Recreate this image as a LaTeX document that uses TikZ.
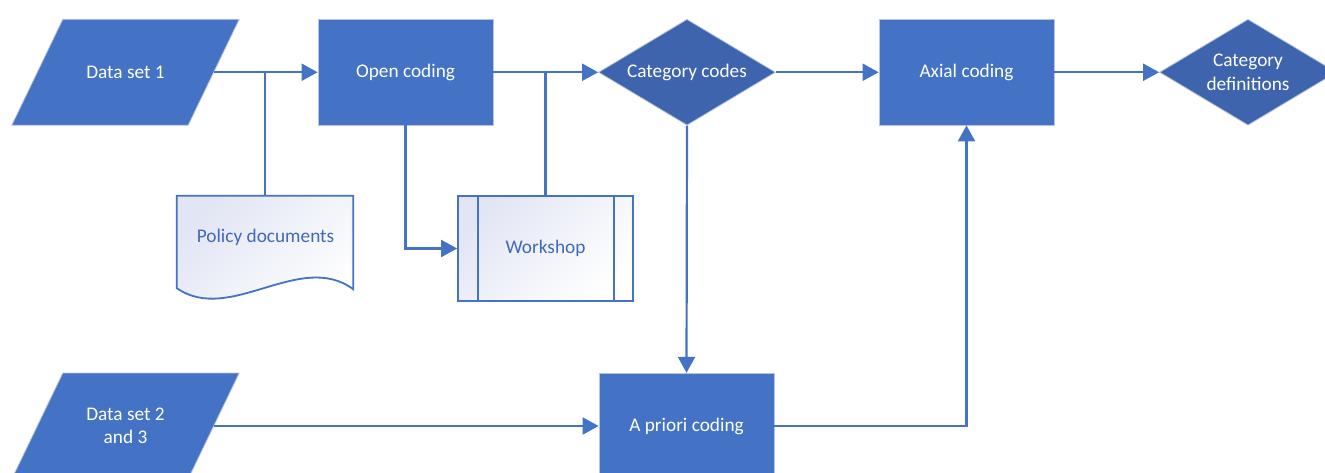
\documentclass[tikz,border=0pt]{standalone}
\usepackage{fontspec}
\setmainfont{Carlito}
\usetikzlibrary{arrows.meta,shapes.geometric,calc,backgrounds}
\definecolor{boxblue}{HTML}{4472C4}
\definecolor{diablue}{HTML}{3D64AD}
\definecolor{linkblue}{HTML}{4472C4}
\definecolor{rim}{HTML}{B8C4DE}
\definecolor{paleblue}{HTML}{E2E6F4}
\definecolor{inkblue}{HTML}{3F69B9}

\begin{document}
\begin{tikzpicture}[x=1pt,y=-1pt,
  font=\fontsize{19.3}{23.5}\selectfont,
  process/.style={rectangle, fill=boxblue, draw=rim, line width=0.8pt, text=white,
    minimum width=175pt, minimum height=105.5pt, inner sep=0pt},
  decision/.style={diamond, aspect=1.67, fill=diablue, draw=rim, line width=0.8pt, text=white,
    minimum width=177pt, minimum height=106pt, inner sep=0pt, align=center},
  % text box of a data node: its east anchor lies on the middle of the slanted edge
  dataio/.style={rectangle, text=white, minimum width=176pt, minimum height=105.5pt,
    inner sep=0pt, align=center},
  dataface/.style={fill=boxblue, draw=rim, line width=0.8pt},
  paleshade/.style={top color=paleblue, bottom color=white, shading angle=45},
  predef/.style={rectangle, paleshade, draw=linkblue, line width=1.8pt, text=inkblue,
    minimum width=175pt, minimum height=105pt, inner sep=0pt},
  wire/.style={draw=linkblue, line width=2.2pt},
  flow/.style={wire, -{Triangle[length=16pt,width=17pt]}}
]
\useasboundingbox (0,0) rectangle (1325,473);
\clip (0,0) rectangle (1325,473);

% main row
\node[dataio] (ds1) at (125.5,72.25) {Data set 1};
\node[process] (open) at (405.5,72.25) {Open coding};
\node[decision] (cc) at (687,72.25) {Category codes};
\node[process] (ax) at (966.5,72.25) {Axial coding};
\node[decision] (cd) at (1248,72.25) {Category\\definitions};

% lower row
\node[dataio] (ds2) at (125.5,426) {Data set 2\\and 3};
\node[process] (ap) at (686.5,426) {A priori coding};

% parallelogram faces behind the data nodes
\begin{pgfonlayer}{background}
  \foreach \d in {ds1,ds2}
    \path[dataface] ([xshift=25.5pt]\d.north west) -- ([xshift=25.5pt]\d.north east)
      -- ([xshift=-25.5pt]\d.south east) -- ([xshift=-25.5pt]\d.south west) -- cycle;
\end{pgfonlayer}

% policy documents (document shape)
\node[minimum width=176pt, minimum height=92pt, inner sep=0pt] (pd) at (265,242) {};
\path[paleshade, draw=linkblue, line width=1.8pt]
  (pd.north west) -- (pd.north east) -- ([yshift=-1pt]pd.south east)
  .. controls (300,250) and (230,325) .. (pd.south west) -- cycle;
\node[text=inkblue] (pdtext) at (265.5,237) {Policy documents};

% workshop (predefined process)
\node[predef] (ws) at (545.5,248.5) {Workshop};
\draw[draw=linkblue, line width=1.8pt]
  ([xshift=21pt]ws.north west) -- ([xshift=21pt]ws.south west)
  ([xshift=-20pt]ws.north east) -- ([xshift=-20pt]ws.south east);

% connectors
\coordinate (j1) at (pd.north |- open.west);
\coordinate (j2) at (ws.north |- open.west);

\draw[flow] (ds1.east) -- (open.west);
\draw[wire] (pd.north) -- (j1);
\draw[flow] (open.east) -- (cc.west);
\draw[wire] (ws.north) -- (j2);
\draw[flow] (open.south) |- (ws.west);
\draw[flow] (cc.east) -- (ax.west);
\draw[flow] (ax.east) -- (cd.west);
\draw[flow] (cc.south) -- (ap.north);
\draw[flow] (ds2.east) -- (ap.west);
\draw[flow] (ap.east) -| (ax.south);
\end{tikzpicture}
\end{document}
